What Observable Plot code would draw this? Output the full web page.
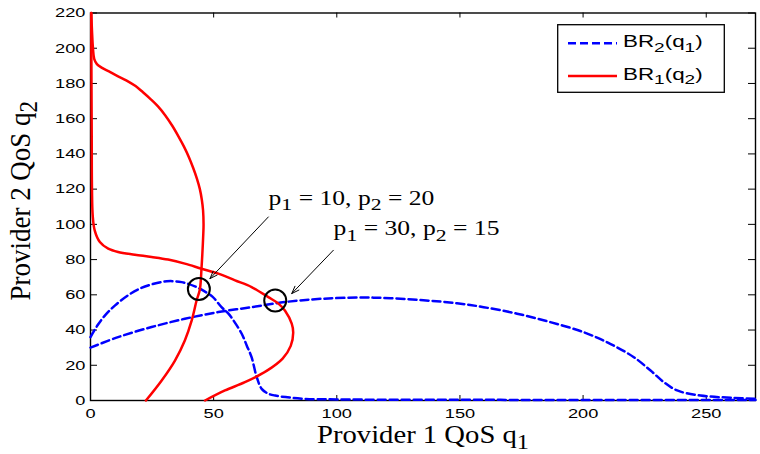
<!DOCTYPE html>
<html>
<head>
<meta charset="utf-8">
<script src="https://cdn.jsdelivr.net/npm/d3@7"></script>
<script src="https://cdn.jsdelivr.net/npm/@observablehq/plot@0.6"></script>
<style>
  body { margin: 0; background: #fff; }
  #chart { position: relative; width: 760px; height: 454px; }
  #legend { position: absolute; left: 557px; top: 24px; }
</style>
</head>
<body>
<div id="chart"></div>
<script>
// Tick values on both axes
const q1Ticks = [0, 50, 100, 150, 200, 250];
const q2Ticks = [0, 20, 40, 60, 80, 100, 120, 140, 160, 180, 200, 220];

// Best response of provider 2, BR2(q1) — first price pair
const br2a_q1 = [0, 3, 6, 10, 15, 20, 25, 31, 37, 42.4, 46, 49.5, 53.2, 56, 58.5, 61.4, 63.5, 65.4, 67.5, 69.5, 72, 75, 80, 86, 100, 150, 200, 270];
const br2a_q2 = [36, 43, 48.5, 54, 59.5, 63.5, 66, 67.7, 67.2, 64.8, 62.2, 59, 53, 49.3, 44.5, 37.9, 31, 24.6, 13.2, 6.6, 4, 2.8, 1.8, 1, 0.6, 0.4, 0.3, 0.3];

// BR2(q1) — second price pair
const br2b_q1 = [0, 11.2, 24.8, 38.3, 51.9, 65.4, 79, 94.6, 114.9, 135.2, 148.8, 159.6, 173.2, 186.7, 200.2, 211, 220.6, 227.4, 232.8, 238.2, 247.7, 261.2, 270];
const br2b_q2 = [30, 36, 41.7, 46.4, 50.2, 53, 55.9, 57.8, 58.4, 56.9, 55.2, 53, 49.3, 44.5, 38.8, 32.2, 24.6, 17, 10.4, 5.7, 2.8, 1.5, 1];

// Best response of provider 1, BR1(q2) — first price pair
const br1a_q1 = [22.5, 28.9, 34.3, 38.3, 41.1, 43.1, 44.4, 45.1, 45.8, 45.9, 45.7, 45.2, 44.4, 43.2, 41.7, 40.0, 38.0, 35.7, 33.2, 30.3, 27.4, 24.5, 21.3, 18.3, 14.5, 11, 7.5, 4.5, 2.6, 1.5, 1.0, 0.6, 0.3];
const br1a_q2 = [0, 11.4, 22.7, 34.1, 45.5, 56.9, 63, 75.8, 94.8, 100, 108, 114, 120, 126, 132, 138, 144, 150, 156, 162, 167, 171, 175, 178.5, 181.8, 184.2, 186.8, 189, 191, 194, 200, 210, 220];

// BR1(q2) — second price pair
const br1b_q1 = [46.5, 54.6, 62.7, 71.5, 78, 81.3, 82.3, 81.7, 79, 76.3, 72.2, 65.4, 58.7, 51.9, 45.1, 38.3, 31.5, 24.8, 18, 11.2, 7.2, 3.8, 1.7, 0.9, 0.6, 0.5, 0.4, 0.3];
const br1b_q2 = [0, 5.7, 10.4, 16.8, 23.8, 31, 38.5, 43.6, 51, 55, 58.7, 64.4, 68.2, 72, 74.8, 77.7, 80, 81.5, 82.8, 84.3, 86.2, 90, 96.6, 105, 120, 150, 180, 220];

// Equilibria (intersections) and their price labels
const eq_q1 = [44, 75];
const eq_q2 = [63.3, 56.8];
const eqLabels = ["p_1 = 10, p_2 = 20", "p_1 = 30, p_2 = 15"];
const eqLabel_q1 = [72.3, 98.7];
const eqLabel_q2 = [110.9, 93.8];
const arrowFrom_q1 = [72.2, 98.6];
const arrowFrom_q2 = [104.2, 85.3];
const arrowTo_q1 = [48.5, 81.7];
const arrowTo_q2 = [69.2, 60.7];

// Legend entries
const legendLabels = ["BR_2(q_1)", "BR_1(q_2)"];
const legendColors = ["#0000ff", "#ff0000"];
const legendDashes = ["8,4", null];

const xLabel = "Provider 1 QoS q_1";
const yLabel = "Provider 2 QoS q_2";

const W = 760, H = 454;
const M = {top: 12.5, right: 5, bottom: 54, left: 90};
const frameW = W - M.left - M.right;
const frameH = H - M.top - M.bottom;
const SANS = "'Liberation Sans', Arial, Helvetica, sans-serif";
const SERIF = "'Liberation Serif', 'Times New Roman', Times, serif";
const BLUE = "#0000ff", RED = "#ff0000";

const rows = (a, b) => a.map((v, i) => ({q1: v, q2: b[i]}));
const eqRows = eq_q1.map((v, i) => ({
  q1: v, q2: eq_q2[i], label: eqLabels[i],
  lx: eqLabel_q1[i], ly: eqLabel_q2[i],
  ax1: arrowFrom_q1[i], ay1: arrowFrom_q2[i], ax2: arrowTo_q1[i], ay2: arrowTo_q2[i]
}));

const line = {x: "q1", y: "q2", curve: "catmull-rom", strokeWidth: 2.5};

const svg = Plot.plot({
  width: W, height: H,
  marginTop: M.top, marginRight: M.right, marginBottom: M.bottom, marginLeft: M.left,
  x: {domain: [0, 270]},
  y: {domain: [0, 220]},
  style: {background: "white", color: "black", fontFamily: SANS, fontSize: "13.5px"},
  marks: [
    Plot.frame({stroke: "black", strokeWidth: 1.4}),
    // inward ticks on all four sides
    Plot.tickX(q1Ticks, {x: d => d, insetTop: frameH - 5, stroke: "black", strokeWidth: 1}),
    Plot.tickX(q1Ticks, {x: d => d, insetBottom: frameH - 5, stroke: "black", strokeWidth: 1}),
    Plot.tickY(q2Ticks, {y: d => d, insetRight: frameW - 7, stroke: "black", strokeWidth: 1}),
    Plot.tickY(q2Ticks, {y: d => d, insetLeft: frameW - 7, stroke: "black", strokeWidth: 1}),
    Plot.axisX({ticks: q1Ticks, tickSize: 0, tickPadding: 8, label: null}),
    Plot.axisY({ticks: q2Ticks, tickSize: 0, tickPadding: 5, label: null}),
    // best-response curves
    Plot.line(rows(br2a_q1, br2a_q2), {...line, stroke: BLUE, strokeDasharray: "8,4"}),
    Plot.line(rows(br2b_q1, br2b_q2), {...line, stroke: BLUE, strokeDasharray: "8,4"}),
    Plot.line(rows(br1a_q1, br1a_q2), {...line, stroke: RED}),
    Plot.line(rows(br1b_q1, br1b_q2), {...line, stroke: RED}),
    // equilibria
    Plot.dot(eqRows, {x: "q1", y: "q2", r: 11, stroke: "black", strokeWidth: 2, fill: "none"}),
    Plot.arrow(eqRows, {x1: "ax1", y1: "ay1", x2: "ax2", y2: "ay2", stroke: "black", strokeWidth: 1, headLength: 12, headAngle: 40}),
    Plot.text(eqRows, {x: "lx", y: "ly", text: "label", textAnchor: "start", lineAnchor: "bottom",
      fontFamily: SERIF, fontSize: 20, fill: "black"}),
    // axis titles
    Plot.text([xLabel], {text: d => d, frameAnchor: "bottom", dy: 42.5, textAnchor: "middle", lineAnchor: "bottom",
      fontFamily: SERIF, fontSize: 24.5, fill: "black"}),
    Plot.text([yLabel], {text: d => d, frameAnchor: "left", dx: -61, dy: -6, rotate: -90, textAnchor: "middle", lineAnchor: "bottom",
      fontFamily: SERIF, fontSize: 27, fill: "black"})
  ]
});

// Horizontal/vertical glyph scaling per text, keyed by content
const glyphScale = new Map([
  [xLabel, [1.17, 1]],
  [yLabel, [1, 1.12]],
  ...eqLabels.map(l => [l, [1.28, 1]]),
  ...q1Ticks.map(v => [String(v), [1.35, 1]]),
  ...q2Ticks.map(v => [String(v), [1.35, 1]])
]);

// Widen glyphs about their anchor point
function scaleText(t, sx, sy) {
  let tr = t.getAttribute("transform");
  if (!tr) {
    const x = +t.getAttribute("x") || 0;
    tr = `translate(${x},0)`;
    t.removeAttribute("x");
  }
  t.setAttribute("transform", `${tr} scale(${sx},${sy})`);
}

// Turn "_x" into a lowered subscript
function subscripts(el, size, shift) {
  const str = el.textContent;
  if (!str.includes("_")) return;
  el.textContent = "";
  str.split(/_(\w)/).forEach((part, i) => {
    if (!part) return;
    const t = document.createElementNS("http://www.w3.org/2000/svg", "tspan");
    t.textContent = part;
    if (i % 2) {
      t.setAttribute("font-size", size);
      t.setAttribute("baseline-shift", shift);
    }
    el.appendChild(t);
  });
}

svg.querySelectorAll("text").forEach(t => {
  const content = t.textContent.trim();
  const s = glyphScale.get(content);
  if (s) scaleText(t, s[0], s[1]);
  subscripts(t, "85%", content === xLabel ? "-0.25em" : "-0.3em");
});

const chart = document.getElementById("chart");
chart.appendChild(svg);

// Legend box in the upper-right corner
const lg = d3.create("svg").attr("id", "legend").attr("width", 168).attr("height", 69);
lg.append("rect").attr("x", 0.7).attr("y", 0.7).attr("width", 166.6).attr("height", 67.6)
  .attr("fill", "white").attr("stroke", "black").attr("stroke-width", 1.3);
legendLabels.forEach((lab, i) => {
  const cy = 19.3 + i * 32.7;
  lg.append("line").attr("x1", 11).attr("x2", 60).attr("y1", cy).attr("y2", cy)
    .attr("stroke", legendColors[i]).attr("stroke-width", 2.5)
    .attr("stroke-dasharray", legendDashes[i]);
  const t = lg.append("text")
    .attr("transform", `translate(66,${cy + 3.5}) scale(1.4,1)`)
    .attr("font-family", SANS).attr("font-size", 16).attr("fill", "black")
    .text(lab);
  subscripts(t.node(), "85%", "-0.35em");
});
chart.appendChild(lg.node());
</script>
</body>
</html>
